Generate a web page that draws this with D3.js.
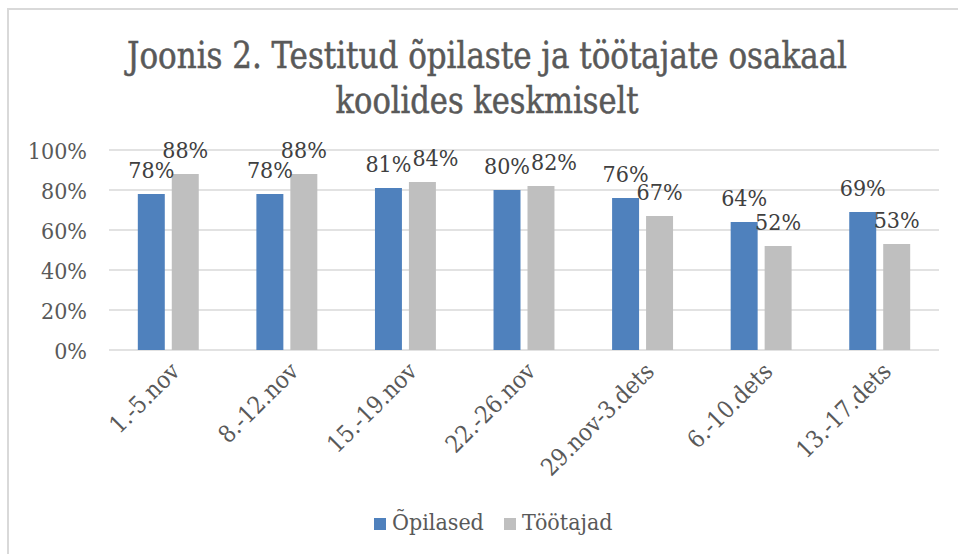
<!DOCTYPE html>
<html><head><meta charset="utf-8">
<script src="https://cdn.jsdelivr.net/npm/d3@7"></script>
<style>
html,body{margin:0;padding:0;background:#fff;}
svg{display:block;}
text{font-family:"DejaVu Serif Condensed","DejaVu Serif",serif;}
</style></head>
<body>
<svg id="chart" width="958" height="554"></svg>
<script>
const categories = ["1.-5.nov","8.-12.nov","15.-19.nov","22.-26.nov","29.nov-3.dets","6.-10.dets","13.-17.dets"];
const opilased = [78,78,81,80,76,64,69];
const tootajad = [88,88,84,82,67,52,53];
const seriesNames = ["Õpilased","Töötajad"];
const yTicks = [0,20,40,60,80,100];
const titleLines = ["Joonis 2. Testitud õpilaste ja töötajate osakaal","koolides keskmiselt"];

const colors = ["#4f81bd","#bfbfbf"];
const svg = d3.select("#chart");
const W = 958, H = 554;

svg.append("rect").attr("x",8).attr("y",9).attr("width",W).attr("height",H)
  .attr("fill","#fff").attr("stroke","#d9d9d9").attr("stroke-width",2);

const pLeft = 109, pRight = 939, pTop = 150, pBottom = 350;
const x0 = d3.scaleBand().domain(categories).range([pLeft,pRight]).paddingInner(0.486).paddingOuter(0.243);
const x1 = d3.scaleBand().domain([0,1]).range([0,x0.bandwidth()]).paddingInner(0.206);
const y = d3.scaleLinear().domain([0,100]).range([pBottom,pTop]);

// gridlines
svg.append("g").selectAll("line").data(yTicks).join("line")
  .attr("x1",pLeft).attr("x2",pRight).attr("y1",d=>y(d)).attr("y2",d=>y(d))
  .attr("stroke","#d9d9d9").attr("stroke-width",1.5);

// y axis labels
const yAxis = d3.axisLeft(y).tickValues(yTicks).tickFormat(d=>d+"%").tickSize(0).tickPadding(22);
const yg = svg.append("g").attr("transform",`translate(${pLeft},0)`).call(yAxis);
yg.select(".domain").remove();
yg.selectAll("text").attr("font-size",23).attr("fill","#595959").attr("dy","0.36em")
  .style("font-family",'"DejaVu Serif Condensed","DejaVu Serif",serif');

// bars
const data = categories.map((c,i)=>({c, vals:[opilased[i],tootajad[i]]}));
const groups = svg.append("g").selectAll("g").data(data).join("g")
  .attr("transform",d=>`translate(${x0(d.c)},0)`);
groups.selectAll("rect").data(d=>d.vals.map((v,k)=>({v,k}))).join("rect")
  .attr("x",d=>x1(d.k)).attr("width",x1.bandwidth())
  .attr("y",d=>y(d.v)).attr("height",d=>y(0)-y(d.v))
  .attr("fill",d=>colors[d.k]);

// data labels, with simple collision avoidance (second label pushed right)
groups.each(function(d){
  const g = d3.select(this);
  const labels = d.vals.map((v,k)=>g.append("text")
    .attr("x",x1(k)+x1.bandwidth()/2).attr("y",y(v)-16)
    .attr("text-anchor","middle").attr("font-size",23).attr("fill","#404040")
    .text(v+"%"));
  const b0 = labels[0].node().getBBox(), b1 = labels[1].node().getBBox();
  if (Math.abs(y(d.vals[0])-y(d.vals[1])) < 12 && b0.x+b0.width > b1.x) {
    const shift = b0.x+b0.width - b1.x + 1;
    labels[1].attr("x", +labels[1].attr("x") + shift);
  }
});

// x axis labels
const xg = svg.append("g");
xg.selectAll("text").data(categories).join("text")
  .attr("transform",d=>`translate(${x0(d)+x0.bandwidth()/2+7},${pBottom+17}) rotate(-45)`)
  .attr("text-anchor","end").attr("dy","0.35em")
  .attr("font-size",24).attr("fill","#595959").text(d=>d);

// title
const tg = svg.append("g");
tg.selectAll("text").data(titleLines).join("text")
  .attr("x",487).attr("y",(d,i)=>68+i*45)
  .attr("text-anchor","middle").attr("font-size",37).attr("fill","#595959")
  .attr("stroke","#595959").attr("stroke-width",0.5)
  .attr("textLength",(d,i)=>i===0?720:303).attr("lengthAdjust","spacingAndGlyphs")
  .text(d=>d);

// legend
const lg = svg.append("g");
const legX = [374,504];
seriesNames.forEach((n,k)=>{
  lg.append("rect").attr("x",legX[k]).attr("y",518).attr("width",12).attr("height",12).attr("fill",colors[k]);
  lg.append("text").attr("x",legX[k]+18).attr("y",530).attr("font-size",23).attr("fill","#595959").text(n);
});
</script>
</body></html>
